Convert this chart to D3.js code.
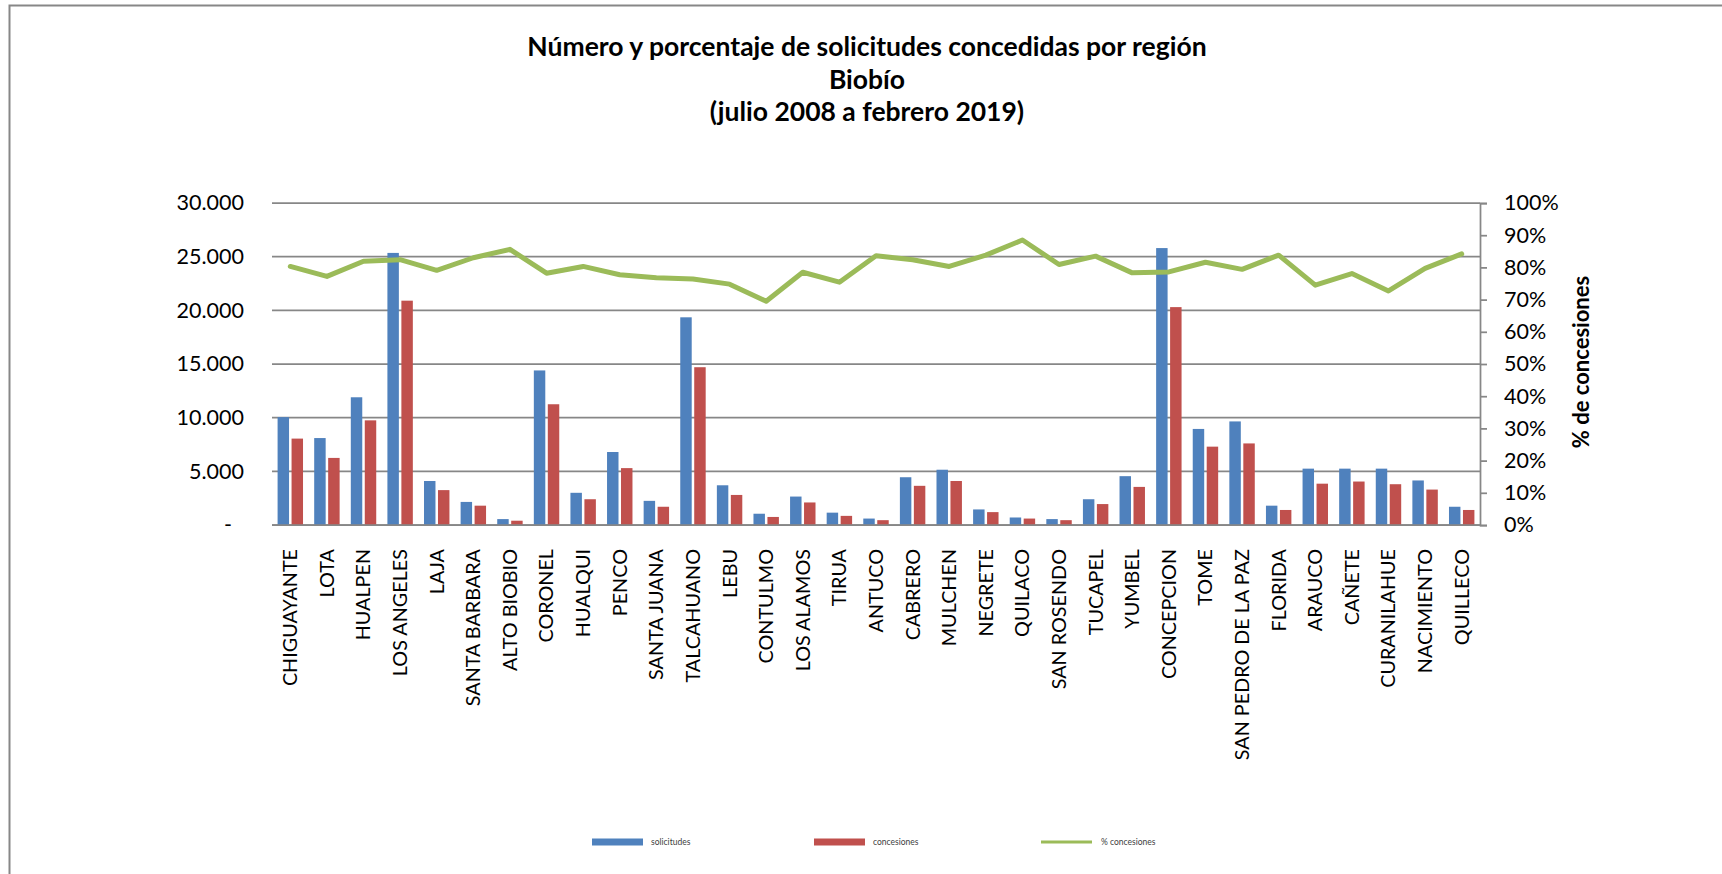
<!DOCTYPE html>
<html>
<head>
<meta charset="utf-8">
<script src="https://cdn.jsdelivr.net/npm/d3@7"></script>
<style>
  html, body { margin: 0; padding: 0; background: #fff; }
  svg { display: block; font-family: Lato, "Open Sans", sans-serif; }
</style>
</head>
<body>
<svg id="chart" width="1722" height="874"></svg>
<script>
const titleLines = ["Número y porcentaje de solicitudes concedidas por región", "Biobío", "(julio 2008 a febrero 2019)"];
const categories = ["CHIGUAYANTE","LOTA","HUALPEN","LOS ANGELES","LAJA","SANTA BARBARA","ALTO BIOBIO","CORONEL","HUALQUI","PENCO","SANTA JUANA","TALCAHUANO","LEBU","CONTULMO","LOS ALAMOS","TIRUA","ANTUCO","CABRERO","MULCHEN","NEGRETE","QUILACO","SAN ROSENDO","TUCAPEL","YUMBEL","CONCEPCION","TOME","SAN PEDRO DE LA PAZ","FLORIDA","ARAUCO","CAÑETE","CURANILAHUE","NACIMIENTO","QUILLECO"];
const solicitudes = [10050, 8100, 11900, 25350, 4100, 2150, 550, 14400, 3000, 6800, 2250, 19350, 3700, 1050, 2650, 1150, 600, 4450, 5150, 1450, 700, 550, 2400, 4550, 25800, 8950, 9650, 1800, 5250, 5250, 5250, 4150, 1700];
const concesiones = [8050, 6250, 9750, 20900, 3250, 1800, 400, 11250, 2400, 5300, 1700, 14700, 2800, 750, 2100, 850, 450, 3650, 4100, 1200, 600, 450, 1950, 3550, 20300, 7300, 7600, 1400, 3850, 4050, 3800, 3300, 1400];
const pctConcesiones = [80.3, 77.2, 81.9, 82.4, 79.1, 83.0, 85.6, 78.2, 80.3, 77.7, 76.8, 76.4, 74.8, 69.5, 78.5, 75.4, 83.6, 82.4, 80.3, 83.8, 88.5, 80.9, 83.5, 78.3, 78.6, 81.6, 79.4, 83.8, 74.5, 78.1, 72.7, 79.7, 84.2];
const leftTicks = [0, 5000, 10000, 15000, 20000, 25000, 30000];
const leftTickLabels = ["-", "5.000", "10.000", "15.000", "20.000", "25.000", "30.000"];
const rightTicks = [0, 10, 20, 30, 40, 50, 60, 70, 80, 90, 100];
const seriesNames = ["solicitudes", "concesiones", "% concesiones"];
const colors = ["#4F81BD", "#C0504D", "#9BBB59"];
const rightAxisTitle = "% de concesiones";

const svg = d3.select("#chart");
const W = 1722, H = 874;
const plot = { left: 272, right: 1480, top: 203, bottom: 525 };

// outer border (extends past right/bottom edges)
svg.append("rect").attr("x", 9.5).attr("y", 5.5).attr("width", W + 20).attr("height", H + 20)
  .attr("fill", "none").attr("stroke", "#878787").attr("stroke-width", 2);

// title
const title = svg.append("text").attr("text-anchor", "middle").attr("font-weight", "bold")
  .attr("font-size", 26.5).attr("fill", "#000");
titleLines.forEach((t, i) => {
  title.append("tspan").attr("x", 867).attr("y", 56 + i * 32.5).text(t);
});

const x = d3.scaleBand().domain(categories).range([plot.left, plot.right]).padding(0);
const xs = d3.scaleBand().domain([0, 1]).range([0, x.bandwidth()]).paddingInner(0.18).paddingOuter(0.4);
const yL = d3.scaleLinear().domain([0, 30000]).range([plot.bottom, plot.top]);
const yR = d3.scaleLinear().domain([0, 100]).range([plot.bottom, plot.top]);

// gridlines
svg.append("g").selectAll("line").data(leftTicks).join("line")
  .attr("x1", plot.left).attr("x2", plot.right)
  .attr("y1", d => yL(d)).attr("y2", d => yL(d))
  .attr("stroke", "#878787").attr("stroke-width", 1.75);

// left axis labels
const leftAxis = d3.axisLeft(yL).tickValues(leftTicks)
  .tickFormat((d, i) => leftTickLabels[i]).tickSize(0).tickPadding(28);
const gL = svg.append("g").attr("transform", `translate(${plot.left},0)`).call(leftAxis);
gL.select(".domain").remove();
gL.selectAll("text").attr("font-size", 21.5).attr("font-family", "Lato, sans-serif").attr("fill", "#000")
  .attr("dx", (d) => d === 0 ? -12 : 0);

// bars
const seriesVals = [solicitudes, concesiones];
seriesVals.forEach((vals, s) => {
  svg.append("g").selectAll("rect").data(vals).join("rect")
    .attr("x", (d, i) => x(categories[i]) + xs(s))
    .attr("width", xs.bandwidth())
    .attr("y", d => yL(d))
    .attr("height", d => yL(0) - yL(d))
    .attr("fill", colors[s]);
});

// re-draw zero line on top
svg.append("line").attr("x1", plot.left).attr("x2", plot.right)
  .attr("y1", yL(0)).attr("y2", yL(0)).attr("stroke", "#878787").attr("stroke-width", 1.75);

// right axis
const rightAxis = d3.axisRight(yR).tickValues(rightTicks).tickFormat(d => d + "%")
  .tickSize(7).tickPadding(17);
const gR = svg.append("g").attr("transform", `translate(${plot.right},0)`).call(rightAxis);
gR.select(".domain").attr("stroke", "#878787").attr("stroke-width", 1.75);
gR.selectAll(".tick line").attr("stroke", "#878787").attr("stroke-width", 1.75);
gR.selectAll("text").attr("font-size", 21.5).attr("font-family", "Lato, sans-serif").attr("fill", "#000");

// right axis title
svg.append("text").attr("transform", `translate(1589,362) rotate(-90)`)
  .attr("text-anchor", "middle").attr("font-weight", "bold").attr("font-size", 22)
  .attr("fill", "#000").text(rightAxisTitle);

// line
const line = d3.line().x((d, i) => x(categories[i]) + x.bandwidth() / 2).y(d => yR(d));
svg.append("path").datum(pctConcesiones).attr("d", line)
  .attr("fill", "none").attr("stroke", colors[2]).attr("stroke-width", 5)
  .attr("stroke-linejoin", "round").attr("stroke-linecap", "round");

// x labels
const xAxis = d3.axisBottom(x).tickSize(0).tickPadding(0);
const gX = svg.append("g").attr("transform", `translate(0,${plot.bottom})`).call(xAxis);
gX.select(".domain").remove();
gX.selectAll("text")
  .attr("font-size", 19.8).attr("font-family", "Lato, sans-serif").attr("fill", "#000")
  .attr("text-anchor", "end")
  .attr("transform", "rotate(-90)")
  .attr("x", -24).attr("y", 0).attr("dy", "0.35em");

// legend
const legendItems = [
  { x: 592, textX: 651, type: "rect" },
  { x: 814, textX: 873, type: "rect" },
  { x: 1041, textX: 1101, type: "line" }
];
const ly = 842;
legendItems.forEach((it, i) => {
  if (it.type === "rect") {
    svg.append("rect").attr("x", it.x).attr("y", ly - 3.5).attr("width", 51).attr("height", 7).attr("fill", colors[i]);
  } else {
    svg.append("line").attr("x1", it.x).attr("x2", it.x + 51).attr("y1", ly).attr("y2", ly)
      .attr("stroke", colors[i]).attr("stroke-width", 3);
  }
  svg.append("text").attr("x", it.textX).attr("y", ly).attr("dy", "0.35em")
    .attr("font-size", 8.5).attr("fill", "#404040").text(seriesNames[i]);
});
</script>
</body>
</html>
